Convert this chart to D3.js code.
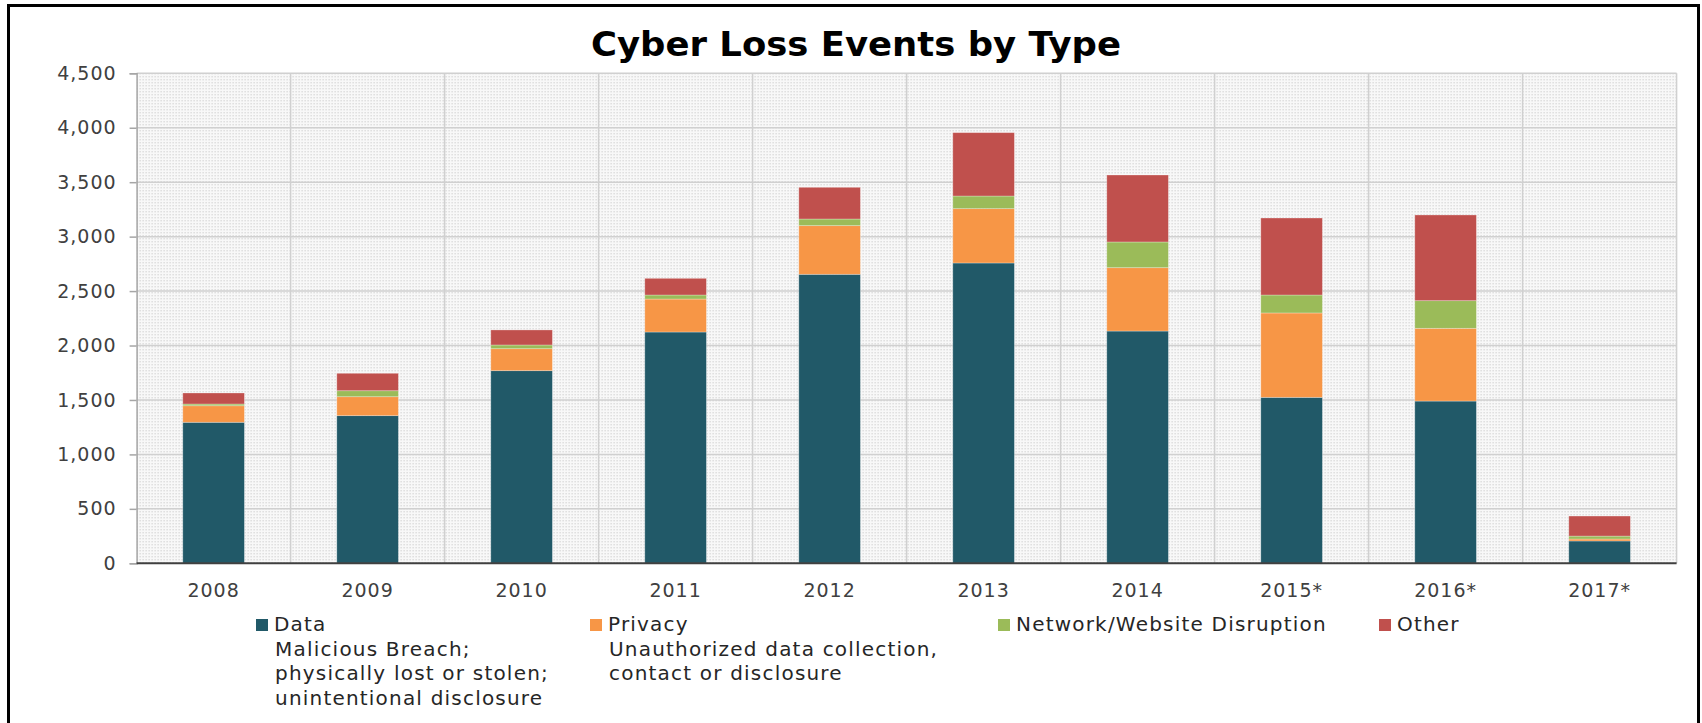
<!DOCTYPE html>
<meta charset="utf-8">

<head>
  <style>
    body {
      margin: 0;
      background: #fff;
    }

    text {
      font-family: "DejaVu Sans", sans-serif;
    }

    .y-axis text,
    .x-axis text {
      font-size: 19px;
      fill: #404040;
      letter-spacing: 1px;
    }

    .legend text {
      font-size: 20px;
      fill: #262626;
      letter-spacing: 1.2px;
    }
  </style>
</head>

<body>
  <script src="https://d3js.org/d3.v7.min.js"></script>

  <div id="chart"></div>

  <script>

    // categories and series
    var years = ["2008", "2009", "2010", "2011", "2012", "2013", "2014", "2015*", "2016*", "2017*"];
    var dataEvents = [1295, 1356, 1769, 2124, 2654, 2758, 2133, 1524, 1490, 205];
    var privacyEvents = [152, 174, 202, 303, 447, 499, 582, 775, 668, 18];
    var networkEvents = [16, 55, 34, 37, 61, 116, 236, 165, 254, 27];
    var otherEvents = [101, 160, 138, 153, 291, 582, 615, 707, 787, 184];

    var seriesNames = ["Data", "Privacy", "Network/Website Disruption", "Other"];
    var seriesNotes = [
      ["Malicious Breach;", "physically lost or stolen;", "unintentional disclosure"],
      ["Unauthorized data collection,", "contact or disclosure"],
      [],
      []
    ];
    var yTicks = [0, 500, 1000, 1500, 2000, 2500, 3000, 3500, 4000, 4500];

    var colors = ["#215968", "#f79646", "#9bbb59", "#c0504d"];

    var width = 1702,
      height = 723;
    var margin = { top: 73.3, left: 136.6, right: 25.4, bottom: 159.7 };
    var plotW = width - margin.left - margin.right,
      plotH = height - margin.top - margin.bottom;

    var svg = d3.select('#chart')
      .append('svg')
      .attr('width', width)
      .attr('height', height);

    // dotted plot-area fill
    var pattern = svg.append('defs').append('pattern')
      .attr('id', 'dots')
      .attr('width', 3)
      .attr('height', 3)
      .attr('patternUnits', 'userSpaceOnUse');
    pattern.append('rect').attr('width', 3).attr('height', 3).attr('fill', '#f8f8f8');
    pattern.append('rect').attr('width', 1).attr('height', 1).attr('fill', '#c0c0c0');

    // outer frame
    svg.append('rect')
      .attr('x', 8.5)
      .attr('y', 5.5)
      .attr('width', 1690)
      .attr('height', 800)
      .attr('fill', 'none')
      .attr('stroke', '#000')
      .attr('stroke-width', 3);

    svg.append('text')
      .attr('x', 856)
      .attr('y', 56)
      .attr('text-anchor', 'middle')
      .attr('font-size', 34)
      .attr('font-weight', 'bold')
      .attr('textLength', 530)
      .attr('lengthAdjust', 'spacingAndGlyphs')
      .text('Cyber Loss Events by Type');

    var g = svg.append('g')
      .attr('transform', 'translate(' + margin.left + ',' + margin.top + ')');

    var x = d3.scaleBand()
      .domain(years)
      .range([0, plotW])
      .paddingInner(0.6)
      .paddingOuter(0.3);

    var y = d3.scaleLinear()
      .domain([0, 4500])
      .range([plotH, 0]);

    g.append('rect')
      .attr('width', plotW)
      .attr('height', plotH)
      .attr('fill', 'url(#dots)');

    // grid
    g.selectAll('.hgrid')
      .data(yTicks.slice(1))
      .enter()
      .append('line')
      .attr('x1', 0)
      .attr('x2', plotW)
      .attr('y1', d => y(d))
      .attr('y2', d => y(d))
      .attr('stroke', '#d0d0d0')
      .attr('stroke-width', 1.5);

    g.selectAll('.vgrid')
      .data(years)
      .enter()
      .append('line')
      .attr('x1', d => x(d) + x.bandwidth() / 2 + x.step() / 2)
      .attr('x2', d => x(d) + x.bandwidth() / 2 + x.step() / 2)
      .attr('y1', 0)
      .attr('y2', plotH)
      .attr('stroke', '#d0d0d0')
      .attr('stroke-width', 1.5);

    var table = years.map((yr, i) => ({
      year: yr,
      s0: dataEvents[i],
      s1: privacyEvents[i],
      s2: networkEvents[i],
      s3: otherEvents[i]
    }));

    var stacked = d3.stack().keys(["s0", "s1", "s2", "s3"])(table);

    g.selectAll('.series')
      .data(stacked)
      .enter()
      .append('g')
      .attr('fill', (d, i) => colors[i])
      .selectAll('rect')
      .data(d => d)
      .enter()
      .append('rect')
      .attr('x', d => x(d.data.year))
      .attr('width', x.bandwidth())
      .attr('y', d => y(d[1]))
      .attr('height', d => y(d[0]) - y(d[1]))
      .attr('stroke', 'rgba(255,255,255,0.35)')
      .attr('stroke-width', 0.8);

    // axes
    var yAxis = g.append('g')
      .attr('class', 'y-axis')
      .call(d3.axisLeft(y).tickValues(yTicks).tickFormat(d3.format(',')).tickSize(7).tickPadding(13));
    yAxis.select('.domain').attr('stroke', '#a6a6a6').attr('stroke-width', 1.5);
    yAxis.selectAll('.tick line').attr('stroke', '#a6a6a6').attr('stroke-width', 1.5);

    var xAxis = g.append('g')
      .attr('class', 'x-axis')
      .attr('transform', 'translate(0,' + plotH + ')')
      .call(d3.axisBottom(x).tickSize(0).tickPadding(20));
    xAxis.select('.domain').remove();

    g.append('line')
      .attr('x1', 0)
      .attr('x2', plotW)
      .attr('y1', plotH)
      .attr('y2', plotH)
      .attr('stroke', '#404040')
      .attr('stroke-width', 2);

    // legend
    var legendX = [256, 590, 998, 1379];
    var legend = svg.append('g').attr('class', 'legend');
    var items = legend.selectAll('g')
      .data(seriesNames)
      .enter()
      .append('g')
      .attr('transform', (d, i) => 'translate(' + legendX[i] + ',619)');

    items.append('rect')
      .attr('width', 12)
      .attr('height', 12)
      .attr('fill', (d, i) => colors[i]);

    items.append('text')
      .attr('x', 18)
      .attr('y', 12)
      .text(d => d);

    items.each(function (d, i) {
      d3.select(this).selectAll('.note')
        .data(seriesNotes[i])
        .enter()
        .append('text')
        .attr('class', 'note')
        .attr('x', 19)
        .attr('y', (n, j) => 37 + j * 24.3)
        .text(n => n);
    });
  </script>
</body>
